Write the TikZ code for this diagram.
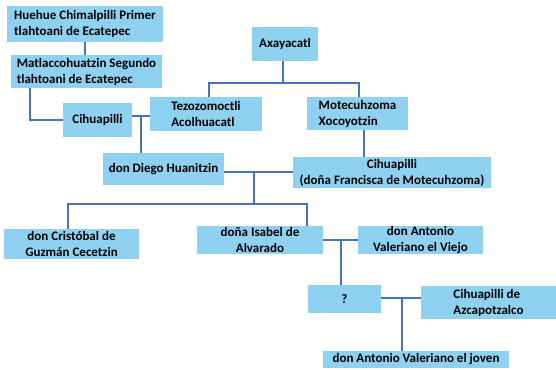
\documentclass[tikz,border=0pt]{standalone}
\usepackage{fontspec}
\setmainfont{Carlito}
\definecolor{boxblue}{HTML}{8FD1F1}
\definecolor{lineblue}{HTML}{4472C4}

\begin{document}
\begin{tikzpicture}[x=1pt,y=-1pt,
  box/.style={fill=boxblue,inner xsep=3pt,inner ysep=0pt,align=center,
    font=\fontsize{13}{16}\selectfont\bfseries},
  link/.style={draw=lineblue,line width=1.6pt}]
\useasboundingbox (0,0) rectangle (556,369);

\node[box,align=left,minimum width=156,minimum height=36] (huehue) at (85,24) {Huehue Chimalpilli Primer\\tlahtoani de Ecatepec};
\node[box,align=left,minimum width=151,minimum height=33] (matla) at (86.5,71.5) {Matlaccohuatzin Segundo\\tlahtoani de Ecatepec};
\node[box,minimum width=69,minimum height=34] (cihua) at (97.5,120) {Cihuapilli};
\node[box,align=left,minimum width=112,minimum height=34] (tezo) at (206,114) {Tezozomoctli\\Acolhuacatl};
\node[box,minimum width=66,minimum height=34] (axa) at (285,44) {Axayacatl};
\node[box,align=left,minimum width=101,minimum height=33] (mote) at (357.5,113.5) {Motecuhzoma\\Xocoyotzin};
\node[box,minimum width=121,minimum height=32] (diego) at (163.5,169) {don Diego Huanitzin};
\node[box,minimum width=198,minimum height=31] (franc) at (392,172.5) {Cihuapilli\\(doña Francisca de Motecuhzoma)};
\node[box,minimum width=135,minimum height=30] (cris) at (71.5,244) {don Cristóbal de\\Guzmán Cecetzin};
\node[box,minimum width=126,minimum height=28] (isa) at (260,240) {doña Isabel de\\Alvarado};
\node[box,minimum width=125,minimum height=28] (valv) at (420.5,240) {don Antonio\\Valeriano el Viejo};
\node[box,minimum width=73,minimum height=28] (q) at (344.5,299) {?};
\node[box,align=left,minimum width=135,minimum height=33] (azca) at (488.5,302.5) {Cihuapilli de\\Azcapotzalco};
\node[box,minimum width=186,minimum height=17] (joven) at (416,359.5) {don Antonio Valeriano el joven};

% Ecatepec
\draw[link] (huehue.south) -- (huehue.south |- matla.north);
\draw[link] ([xshift=19]matla.south west) |- (cihua.west);
\coordinate (m1) at (141,116);
\draw[link] (cihua.east |- m1) -- (tezo.west |- m1);
\draw[link] (m1) -- (m1 |- diego.north);

% Axayacatl
\coordinate (j1) at (283,83);
\draw[link] (axa.south -| j1) -- (j1);
\draw[link] ([xshift=3]tezo.north) |- (j1) -| ([xshift=1.5]mote.north);
\draw[link] ([xshift=6.5]mote.south) -- ([xshift=6.5]mote.south |- franc.north);

% hijos
\coordinate (m2) at (254,172);
\coordinate (j2) at (254,204);
\draw[link] (diego.east |- m2) -- (franc.west |- m2);
\draw[link] (m2) -- (j2);
\draw[link] ([xshift=-3.5]cris.north) |- (j2) -| ([xshift=-16]isa.north east);

\coordinate (m3) at (341,240);
\draw[link] (isa.east) -- (valv.west);
\draw[link] (m3) -- (m3 |- q.north);

\coordinate (m4) at (402,298);
\draw[link] (q.east |- m4) -- (azca.west |- m4);
\draw[link] (m4) -- (m4 |- joven.north);
\end{tikzpicture}
\end{document}
